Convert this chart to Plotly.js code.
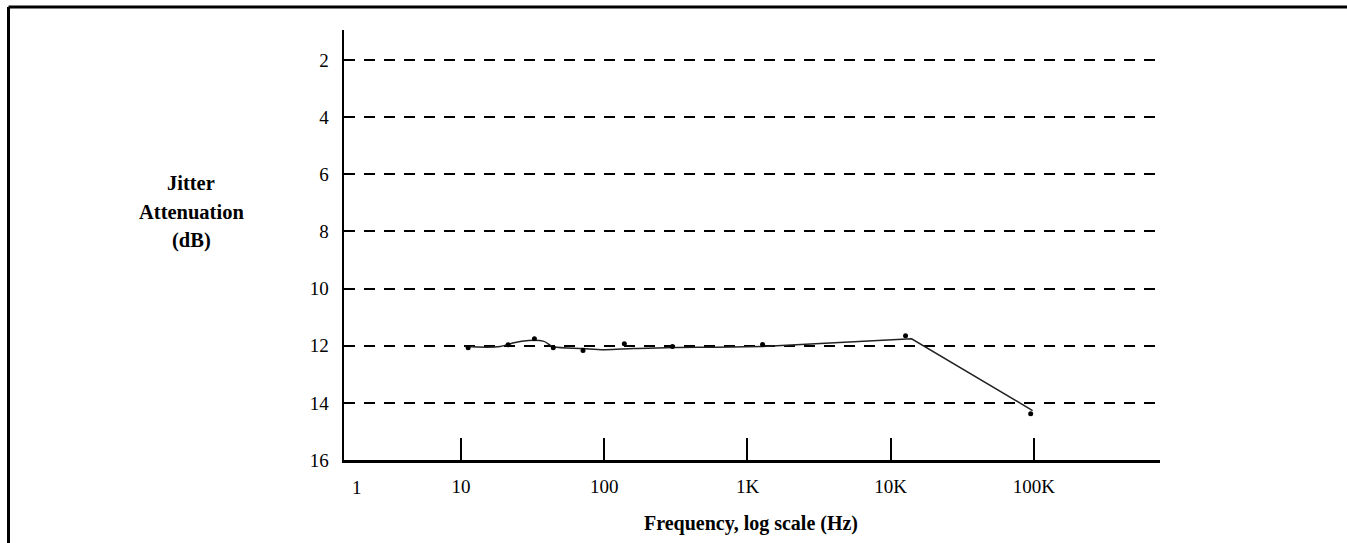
<!DOCTYPE html>
<html>
<head>
<meta charset="utf-8">
<script src="https://cdn.plot.ly/plotly-3.0.1.min.js"></script>
<style>html,body{margin:0;padding:0;background:#fff;}#chart{width:1347px;height:543px;}</style>
</head>
<body>
<div id="chart"></div>
<script>
// Measured points (frequency in Hz, jitter attenuation in dB)
const measFreq = [11.2, 21.3, 32.5, 44, 71, 138, 299, 1274, 12700, 95000];
const measAtten = [12.07, 11.97, 11.76, 12.07, 12.17, 11.93, 12.03, 11.96, 11.65, 14.38];

// Fitted curve through the measurements
const fitFreq = [10.7, 18.7, 22, 26.5, 37.4, 44, 71, 100, 160, 300, 600, 1270];
const fitAtten = [12.03, 12.03, 11.93, 11.84, 11.84, 12.03, 12.10, 12.14, 12.10, 12.06, 12.05, 12.03];
const tailFreq = [1270, 14000, 98000];
const tailAtten = [12.03, 11.76, 14.27];

// Axis ticks
const xTickVals = [10, 100, 1000, 10000, 100000];
const xTickText = ['10', '100', '1K', '10K', '100K'];
const yTickVals = [2, 4, 6, 8, 10, 12, 14, 16];

const FONT = "'Liberation Serif', 'Times New Roman', serif";

const traces = [
  {x: fitFreq, y: fitAtten, mode: 'lines', line: {color: '#222', width: 1.5, shape: 'spline', smoothing: 1}, hoverinfo: 'skip'},
  {x: tailFreq, y: tailAtten, mode: 'lines', line: {color: '#222', width: 1.5}, hoverinfo: 'skip'},
  {x: measFreq, y: measAtten, mode: 'markers', marker: {color: '#000', size: 5}}
];

const L = 344, T = 30, R = 1160, B = 460, W = 1347, H = 543;
const pw = R - L, ph = B - T;
const px = v => (v - L) / pw;
const py = v => (B - v) / ph;

const layout = {
  width: W, height: H,
  margin: {l: L, r: W - R, t: T, b: H - B, pad: 0},
  paper_bgcolor: '#fff', plot_bgcolor: '#fff',
  showlegend: false,
  font: {family: FONT, size: 19, color: '#000'},
  xaxis: {
    type: 'log', range: [0.182, 5.881],
    tickvals: xTickVals, ticktext: xTickText,
    ticks: 'inside', ticklen: 22, tickwidth: 2, tickcolor: '#000',
    ticklabelstandoff: 8,
    showline: true, linecolor: '#000', linewidth: 2.5,
    showgrid: false, zeroline: false,
    tickfont: {family: FONT, size: 19, color: '#000'}
  },
  yaxis: {
    range: [16, 0.95],
    tickvals: yTickVals,
    ticks: '', ticklabelstandoff: 9,
    showline: true, linecolor: '#000', linewidth: 2.5,
    showgrid: true, gridcolor: '#000', gridwidth: 2, griddash: '11px,9px',
    zeroline: false,
    tickfont: {family: FONT, size: 19, color: '#000'}
  },
  annotations: [
    {text: '1', xref: 'x', yref: 'paper', x: 0.273, y: py(487), showarrow: false, xanchor: 'center', yanchor: 'middle', font: {family: FONT, size: 19, color: '#000'}},
    {text: '<b>Jitter</b>', xref: 'paper', yref: 'paper', x: px(191), y: py(183), showarrow: false, xanchor: 'center', yanchor: 'middle', font: {family: FONT, size: 20.5, color: '#000'}},
    {text: '<b>Attenuation</b>', xref: 'paper', yref: 'paper', x: px(191), y: py(212), showarrow: false, xanchor: 'center', yanchor: 'middle', font: {family: FONT, size: 20.5, color: '#000'}},
    {text: '<b>(dB)</b>', xref: 'paper', yref: 'paper', x: px(191), y: py(240), showarrow: false, xanchor: 'center', yanchor: 'middle', font: {family: FONT, size: 20.5, color: '#000'}},
    {text: '<b>Frequency, log scale (Hz)</b>', xref: 'paper', yref: 'paper', x: px(751), y: py(523), showarrow: false, xanchor: 'center', yanchor: 'middle', font: {family: FONT, size: 20, color: '#000'}}
  ],
  shapes: [
    {type: 'line', xref: 'paper', yref: 'paper', x0: px(8.5), x1: px(1347), y0: py(7), y1: py(7), line: {color: '#000', width: 3}},
    {type: 'line', xref: 'paper', yref: 'paper', x0: px(8.5), x1: px(8.5), y0: py(7), y1: py(543), line: {color: '#000', width: 3}}
  ]
};

Plotly.newPlot('chart', traces, layout, {displayModeBar: false, staticPlot: true});
</script>
</body>
</html>
